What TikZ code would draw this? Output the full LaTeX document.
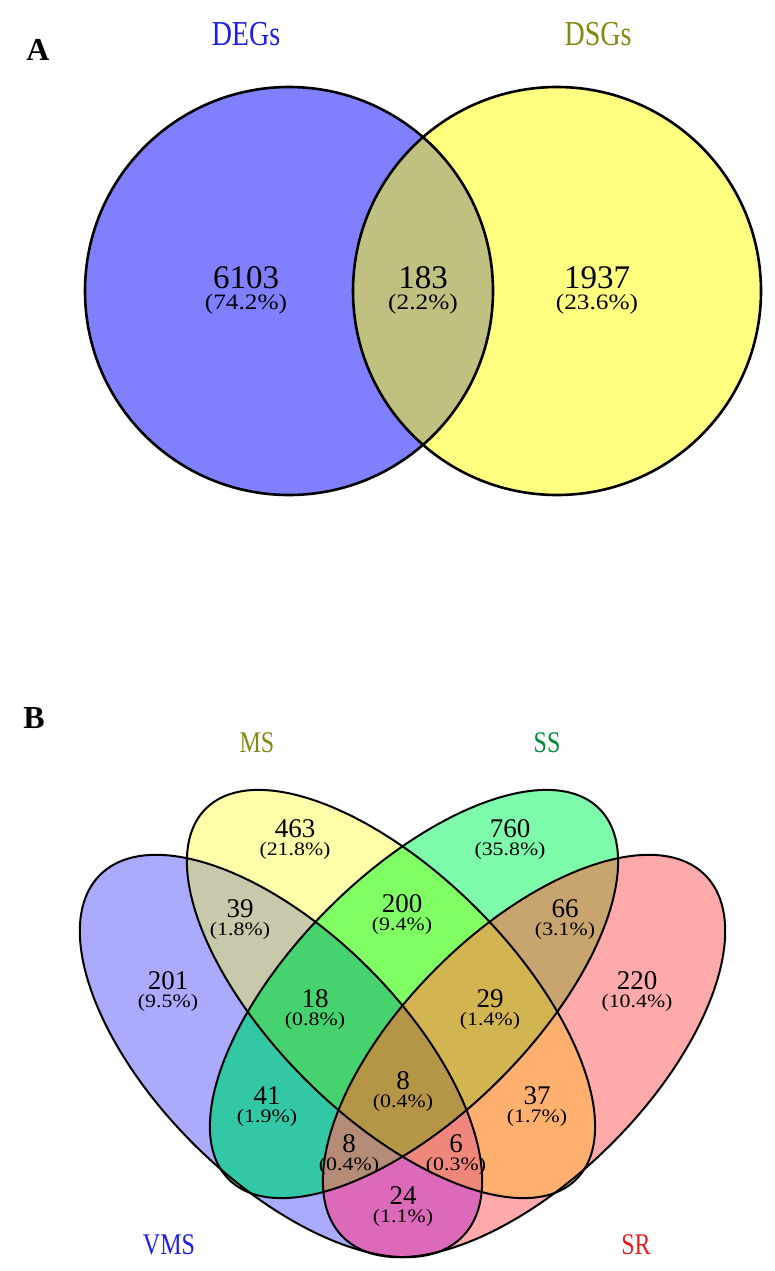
\documentclass[tikz,border=0pt]{standalone}
\usepackage{fontspec}
\setmainfont{Liberation Serif}
\newfontfamily\narrowfont[FakeStretch=0.8]{Liberation Serif}
\newfontfamily\widefont[FakeStretch=1.15]{Liberation Serif}
\newcommand{\pctA}{\widefont\fontsize{22}{22}\selectfont}
\newcommand{\pctB}{\widefont\fontsize{19}{19}\selectfont}

\definecolor{cDEG}{RGB}{128,128,255}
\definecolor{cDSG}{RGB}{255,255,128}
\definecolor{cBoth}{RGB}{192,192,128}
\definecolor{tBlue}{RGB}{30,30,235}
\definecolor{tOlive}{RGB}{135,135,20}
\definecolor{tGreen}{RGB}{0,140,60}
\definecolor{tRed}{RGB}{235,30,30}
% single sets
\definecolor{cVMS}{RGB}{170,170,255}
\definecolor{cMS}{RGB}{255,255,170}
\definecolor{cSS}{RGB}{125,250,170}
\definecolor{cSR}{RGB}{255,170,170}
% two sets
\definecolor{cVM}{RGB}{200,200,170}
\definecolor{cVS}{RGB}{50,200,165}
\definecolor{cVR}{RGB}{220,105,185}
\definecolor{cMSS}{RGB}{128,255,100}
\definecolor{cMR}{RGB}{255,175,110}
\definecolor{cSSR}{RGB}{200,165,110}
% three and four sets
\definecolor{cVMSS}{RGB}{70,210,110}
\definecolor{cVMR}{RGB}{240,135,125}
\definecolor{cVSR}{RGB}{180,140,120}
\definecolor{cMSR}{RGB}{210,180,80}
\definecolor{cAll}{RGB}{180,150,70}

\newcommand{\ellVMS}[1]{\path[#1, rotate around={-45:(281,-1056)}] (281,-1056) ellipse (256 and 124);}
\newcommand{\ellMS}[1]{\path[#1, rotate around={-45:(391,-994)}] (391,-994) ellipse (262 and 121);}
\newcommand{\ellSS}[1]{\path[#1, rotate around={45:(414,-994)}] (414,-994) ellipse (262 and 121);}
\newcommand{\ellSR}[1]{\path[#1, rotate around={45:(524,-1056)}] (524,-1056) ellipse (256 and 124);}

\tikzset{
  panel/.style={font=\bfseries\fontsize{32}{32}\selectfont, inner sep=0pt},
  setname/.style={font=\narrowfont\fontsize{#1}{#1}\selectfont, inner sep=0pt},
  cellA/.style={align=center, inner sep=0pt, font=\fontsize{33}{21}\selectfont},
  cellB/.style={align=center, inner sep=0pt, font=\fontsize{27}{18}\selectfont},
  rim/.style={draw=black, line width=#1},
}

\begin{document}
\begin{tikzpicture}[x=1pt,y=1pt]
\fill[white] (0,0) rectangle (775,-1271);
\useasboundingbox (0,0) rectangle (775,-1271);

% panel A
\fill[cDEG] (289,-291) circle (204);
\fill[cDSG] (557,-291) circle (204);
\begin{scope}
  \clip (289,-291) circle (204);
  \fill[cBoth] (557,-291) circle (204);
\end{scope}
\draw[rim=2.6pt] (289,-291) circle (204);
\draw[rim=2.6pt] (557,-291) circle (204);

\node[panel] (labA) at (38,-50) {A};
\node[setname=35, text=tBlue] (labDEG) at (246,-34) {DEGs};
\node[setname=35, text=tOlive] (labDSG) at (598,-34) {DSGs};
\node[cellA] (r6103) at (246,-290) {6103\\{\pctA(74.2\%)}};
\node[cellA] (r183) at (423,-290) {183\\{\pctA(2.2\%)}};
\node[cellA] (r1937) at (597,-290) {1937\\{\pctA(23.6\%)}};

% panel B
\ellVMS{fill=cVMS}
\ellMS{fill=cMS}
\ellSS{fill=cSS}
\ellSR{fill=cSR}
\begin{scope}\ellVMS{clip}\ellMS{fill=cVM}\end{scope}
\begin{scope}\ellVMS{clip}\ellSS{fill=cVS}\end{scope}
\begin{scope}\ellVMS{clip}\ellSR{fill=cVR}\end{scope}
\begin{scope}\ellMS{clip}\ellSS{fill=cMSS}\end{scope}
\begin{scope}\ellMS{clip}\ellSR{fill=cMR}\end{scope}
\begin{scope}\ellSS{clip}\ellSR{fill=cSSR}\end{scope}
\begin{scope}\ellVMS{clip}\ellMS{clip}\ellSS{fill=cVMSS}\end{scope}
\begin{scope}\ellVMS{clip}\ellMS{clip}\ellSR{fill=cVMR}\end{scope}
\begin{scope}\ellVMS{clip}\ellSS{clip}\ellSR{fill=cVSR}\end{scope}
\begin{scope}\ellMS{clip}\ellSS{clip}\ellSR{fill=cMSR}\end{scope}
\begin{scope}\ellVMS{clip}\ellMS{clip}\ellSS{clip}\ellSR{fill=cAll}\end{scope}
\ellVMS{rim=2pt}
\ellMS{rim=2pt}
\ellSS{rim=2pt}
\ellSR{rim=2pt}

\node[panel] (labB) at (34,-718) {B};
\node[setname=30, text=tOlive] (labMS) at (257,-743) {MS};
\node[setname=30, text=tGreen] (labSS) at (547,-743) {SS};
\node[setname=30, text=tBlue] (labVMS) at (169,-1245) {VMS};
\node[setname=30, text=tRed] (labSR) at (636,-1245) {SR};

\node[cellB] (r463) at (295,-840) {463\\{\pctB(21.8\%)}};
\node[cellB] (r760) at (510,-840) {760\\{\pctB(35.8\%)}};
\node[cellB] (r201) at (168,-992) {201\\{\pctB(9.5\%)}};
\node[cellB] (r220) at (637,-992) {220\\{\pctB(10.4\%)}};
\node[cellB] (r39) at (240,-920) {39\\{\pctB(1.8\%)}};
\node[cellB] (r200) at (402,-915) {200\\{\pctB(9.4\%)}};
\node[cellB] (r66) at (565,-920) {66\\{\pctB(3.1\%)}};
\node[cellB] (r18) at (315,-1010) {18\\{\pctB(0.8\%)}};
\node[cellB] (r29) at (490,-1010) {29\\{\pctB(1.4\%)}};
\node[cellB] (r41) at (267,-1107) {41\\{\pctB(1.9\%)}};
\node[cellB] (r8c) at (403,-1092) {8\\{\pctB(0.4\%)}};
\node[cellB] (r37) at (537,-1107) {37\\{\pctB(1.7\%)}};
\node[cellB] (r8l) at (349,-1155) {8\\{\pctB(0.4\%)}};
\node[cellB] (r6) at (456,-1155) {6\\{\pctB(0.3\%)}};
\node[cellB] (r24) at (403,-1207) {24\\{\pctB(1.1\%)}};
\end{tikzpicture}
\end{document}
